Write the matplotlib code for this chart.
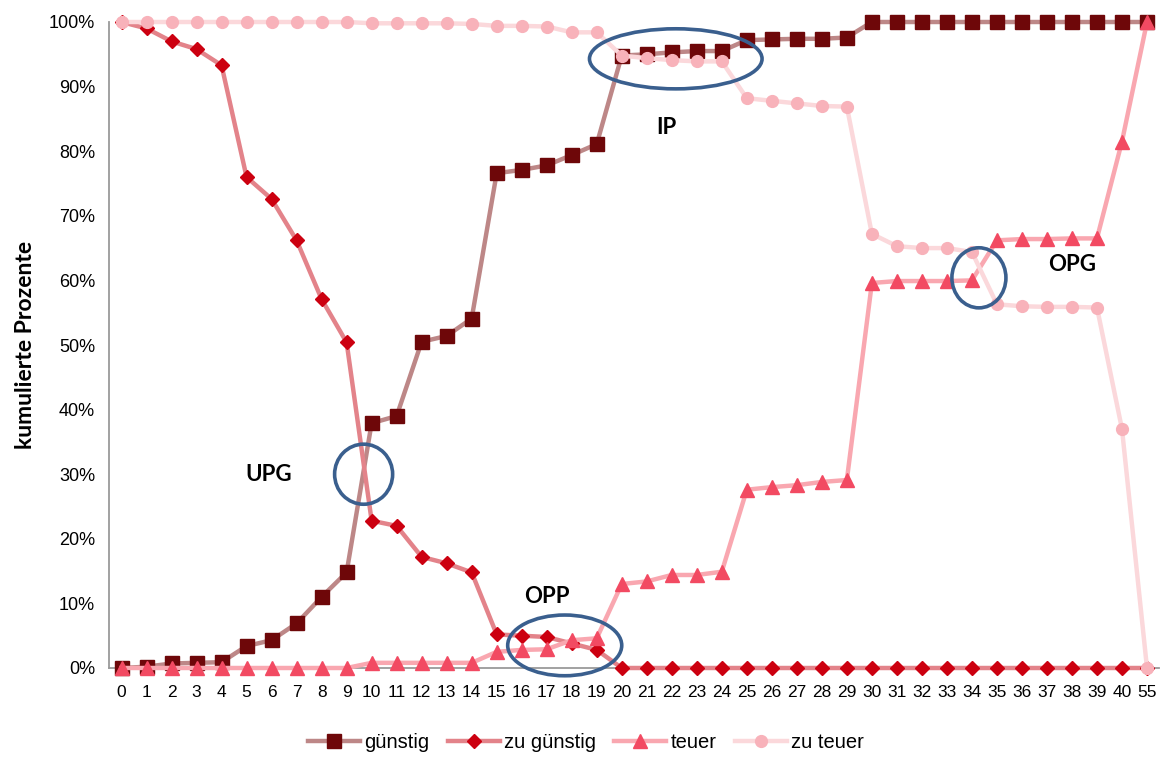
import matplotlib
matplotlib.use("Agg")
import matplotlib.pyplot as plt
from matplotlib.patches import Ellipse
from matplotlib.ticker import FuncFormatter

categories = ["0","1","2","3","4","5","6","7","8","9","10","11","12","13","14","15","16","17","18","19",
              "20","21","22","23","24","25","26","27","28","29","30","31","32","33","34","35","36","37","38","39","40","55"]

guenstig = [0, 0.2, 0.7, 0.8, 0.9, 3.4, 4.3, 6.9, 11.0, 14.8, 37.9, 39.0, 50.5, 51.4, 54.1,
            76.6, 77.1, 77.8, 79.4, 81.1, 94.8, 95.0, 95.3, 95.5, 95.5, 97.2, 97.3, 97.4, 97.4, 97.6,
            100, 100, 100, 100, 100, 100, 100, 100, 100, 100, 100, 100]
zu_guenstig = [100, 99.0, 97.0, 95.8, 93.3, 76.0, 72.6, 66.2, 57.1, 50.4, 22.8, 22.0, 17.2, 16.2, 14.8,
               5.2, 5.0, 4.8, 3.8, 2.8] + [0] * 22
teuer = [0] * 10 + [0.8, 0.8, 0.8, 0.8, 0.8, 2.5, 2.8, 2.9, 4.3, 4.6, 13.0, 13.4, 14.4, 14.4, 14.9,
         27.6, 28.0, 28.3, 28.8, 29.1, 59.6, 59.9, 59.9, 59.9, 60.0, 66.2, 66.4, 66.4, 66.5, 66.5, 81.5, 100]
zu_teuer = [100] * 10 + [99.8, 99.8, 99.8, 99.8, 99.7, 99.4, 99.4, 99.3, 98.4, 98.4, 94.8, 94.4, 94.1,
            93.9, 93.9, 88.2, 87.8, 87.4, 87.0, 86.9, 67.2, 65.3, 65.0, 65.0, 64.4, 56.3, 56.0, 55.9,
            55.9, 55.8, 37.0, 0]

series_names = ["günstig", "zu günstig", "teuer", "zu teuer"]
line_colors = ["#BD8787", "#E3838A", "#F9A7B0", "#FBD8DB"]
marker_colors = ["#6E0709", "#CC0010", "#F24A62", "#F8B2BA"]
markers = ["s", "D", "^", "o"]
msizes = [10.5, 7, 10, 8.5]

annotations = [("IP", 21.8, 83.7), ("UPG", 5.9, 30.0), ("OPP", 17.0, 11.0), ("OPG", 38.0, 62.4)]
ellipses = [(22.16, 94.3, 6.9, 9.3), (9.68, 30.0, 2.32, 9.3), (17.72, 3.5, 4.56, 9.4), (34.28, 60.4, 2.16, 9.3)]

fig = plt.figure(figsize=(11.67, 7.58), dpi=100)
ax = fig.add_axes([109 / 1167, 1 - 668 / 758, (1159.5 - 109) / 1167, (668 - 22) / 758])

x = list(range(len(categories)))
for vals, name, lc, mc, mk, ms in zip([guenstig, zu_guenstig, teuer, zu_teuer], series_names,
                                      line_colors, marker_colors, markers, msizes):
    ax.plot(x, [v / 100 for v in vals], color=lc, lw=3.2, marker=mk, markersize=ms,
            markerfacecolor=mc, markeredgecolor=mc, label=name, clip_on=False, zorder=3)

for (cx, cy, w, h) in ellipses:
    e = Ellipse((cx, cy / 100), w, h / 100, fill=False, edgecolor="#3A5F8E", lw=2.6,
                clip_on=False, zorder=5)
    ax.add_patch(e)

for (t, tx, ty) in annotations:
    ax.text(tx, ty / 100, t, ha="center", va="center", fontsize=16, fontweight="bold",
            family="Lato", color="black", zorder=6)

ax.set_xlim(-0.5, len(categories) - 0.5)
ax.set_ylim(0, 1)
ax.set_xticks(x)
ax.set_xticklabels(categories, family="Liberation Sans", fontsize=12.5)
ax.set_yticks([i / 10 for i in range(11)])
ax.yaxis.set_major_formatter(FuncFormatter(lambda v, p: f"{int(round(v * 100))}%"))
for lab in ax.get_yticklabels():
    lab.set_family("Liberation Sans")
    lab.set_fontsize(13)
ax.tick_params(axis="both", length=0)
ax.tick_params(axis="y", pad=10)
ax.tick_params(axis="x", pad=12)
for s in ["top", "right"]:
    ax.spines[s].set_visible(False)
for s in ["left", "bottom"]:
    ax.spines[s].set_color("#9A9A9A")
    ax.spines[s].set_linewidth(1.3)
ax.set_ylabel("kumulierte Prozente", fontsize=16.5, fontweight="bold", family="Lato", labelpad=9)

fig.legend(loc="center", bbox_to_anchor=(0.502, 1 - 743 / 758), ncol=4, frameon=False,
           prop={"family": "Liberation Sans", "size": 14.5}, handlelength=2.6, columnspacing=0.9,
           handletextpad=0.2)

fig.savefig("out.png", dpi=100)
